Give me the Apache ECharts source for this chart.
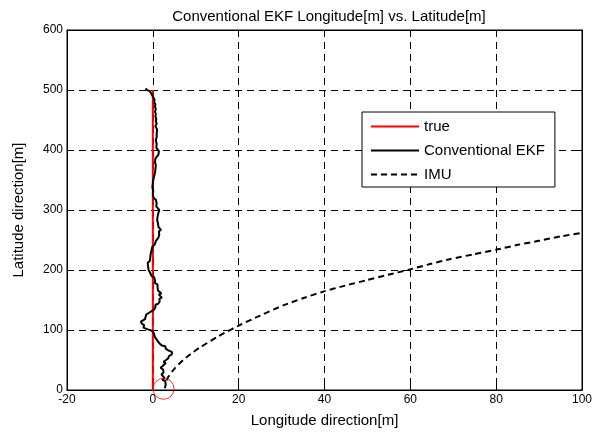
<!DOCTYPE html>
<html>
<head>
<meta charset="utf-8">
<script src="https://cdn.jsdelivr.net/npm/echarts@6/dist/echarts.min.js"></script>
<style>html,body{margin:0;padding:0;background:#fff}#c{width:608px;height:437px}</style>
</head>
<body>
<div id="c"></div>
<script>
var titleText = 'Conventional EKF Longitude[m] vs. Latitude[m]';
var xName = 'Longitude direction[m]';
var yName = 'Latitude direction[m]';
var seriesNames = ['true', 'Conventional EKF', 'IMU'];

var trueX = [0, 0];
var trueY = [0, 500];

var ekfX = [2.8,2.4,3.0,2.6,2.9,2.2,2.7,2.4,2.0,2.5,2.1,2.4,1.8,2.3,2.6,3.0,2.5,2.9,3.5,3.1,3.8,4.4,4.0,4.5,4.2,3.6,3.8,3.0,2.6,2.9,2.1,1.8,1.5,1.9,1.1,0.8,0.5,0.9,0.3,0.5,0.1,0.3,-0.2,-0.6,-1.2,-1.6,-2.2,-2.6,-2.0,-2.5,-2.3,-2.8,-2.3,-1.8,-2.2,-1.7,-2.1,-1.5,-1.0,-0.6,-0.2,0.3,0.1,0.6,0.9,0.6,1.3,1.0,1.6,1.9,1.5,2.1,1.8,1.4,2.0,1.6,1.2,1.6,1.1,0.8,1.1,0.5,0.2,0.5,0.1,0.3,-0.3,-0.1,-0.6,-0.4,-1.0,-0.7,-1.1,-0.8,-1.2,-0.7,-1.0,-0.6,-0.9,-0.5,-0.8,-0.3,0.1,-0.1,0.4,0.2,0.7,0.9,1.3,1.0,1.5,1.8,1.4,1.9,1.6,1.3,1.7,1.2,1.5,1.0,0.7,1.1,0.8,1.3,1.0,1.5,1.1,0.8,1.2,0.9,0.5,0.7,0.2,0.4,0.0,-0.3,0.1,-0.3,-0.1,0.2,0.0,0.3,0.1,0.5,0.3,0.7,0.5,0.9,0.6,1.0,0.7,0.9,0.5,0.8,0.6,1.0,1.3,1.0,1.4,1.1,0.8,1.2,0.9,1.1,0.7,1.0,0.9,0.6,0.9,0.7,1.0,0.8,0.6,0.9,0.7,0.8,0.6,0.7,0.5,0.7,0.5,0.6,0.3,0.4,0.1,-0.2,-0.5,-0.7,-1.1,-1.7,-1.3];
var ekfY = [3,6,9,12,15,17,20,23,26,29,31,34,37,40,42,45,47,50,52,55,57,59,61,63,65,66,68,69,71,73,74,76,78,80,82,85,88,90,93,95,97,98,99,100,101,102,104,106,108,110,112,114,116,118,120,122,124,126,128,130,132,134,136,138,140,142,144,146,148,150,152,154,157,159,161,164,166,168,171,173,176,178,181,183,185,188,190,193,195,198,200,203,206,209,212,215,218,221,224,227,230,233,236,239,242,245,248,251,254,257,259,262,264,267,270,272,275,278,281,283,286,289,292,295,297,300,303,306,309,311,314,317,320,323,326,329,332,335,338,341,344,347,350,353,356,359,362,365,368,371,374,377,380,383,386,389,392,395,398,401,404,407,410,413,416,419,422,425,428,431,434,437,440,444,448,452,456,460,464,468,472,476,480,484,488,492,495,498,500,501,502];

var imuX = [3.2,3.6,5.2,7.1,9.0,11.0,14.9,17.2,19.9,25.0,30.4,35.0,39.7,44.8,49.8,54.8,59.9,64.6,69.2,74.6,80.1,85.1,90.2,95.0,99.9,101];
var imuY = [16,22,37,50,61,71,88,97,107,124,141,153,164,174,183,192,201,210,218,226,234,242,249,256,262,264];

var startX = [2.5];
var startY = [2];

function pairs(xs, ys){ return xs.map(function(v,i){ return [v, ys[i]]; }); }

var fontFam = '"Liberation Sans", Arial, Helvetica, sans-serif';
var chart = echarts.init(document.getElementById('c'));
chart.setOption({
  animation: false,
  backgroundColor: '#fff',
  title: {
    text: titleText,
    left: 324, top: 4, textAlign: 'center',
    textStyle: {fontSize: 15, fontWeight: 'normal', color: '#000', fontFamily: fontFam}
  },
  grid: {left: 67, right: 26, top: 30, bottom: 47, show: true, borderColor: '#000', borderWidth: 1, backgroundColor: '#fff'},
  legend: {
    data: seriesNames,
    orient: 'vertical',
    left: 362, top: 112,
    backgroundColor: '#fff',
    borderColor: '#000', borderWidth: 1,
    padding: [7, 10, 5, 8],
    itemWidth: 48, itemHeight: 14, itemGap: 9,
    itemStyle: {color: 'rgba(0,0,0,0)', borderColor: 'rgba(0,0,0,0)', borderWidth: 0},
    textStyle: {fontSize: 15, color: '#000', fontFamily: fontFam}
  },
  xAxis: [{
    type: 'value', min: -20, max: 100, interval: 20,
    name: xName, nameLocation: 'middle', nameGap: 23,
    nameTextStyle: {fontSize: 15, color: '#000', fontFamily: fontFam},
    axisLine: {show: true, onZero: false, lineStyle: {color: '#000'}},
    axisTick: {show: true, inside: true, length: 5, lineStyle: {color: '#000'}},
    axisLabel: {fontSize: 12, color: '#000', margin: 4, fontFamily: fontFam},
    splitLine: {show: true, lineStyle: {color: '#000', type: [7, 5], width: 1}}
  }, {
    type: 'value', min: -20, max: 100, interval: 20, position: 'top',
    axisLine: {show: true, onZero: false, lineStyle: {color: '#000'}},
    axisTick: {show: true, inside: true, length: 5, lineStyle: {color: '#000'}},
    axisLabel: {show: false}, splitLine: {show: false}
  }],
  yAxis: [{
    type: 'value', min: 0, max: 600, interval: 100,
    name: yName, nameLocation: 'middle', nameGap: 41,
    nameTextStyle: {fontSize: 15, color: '#000', fontFamily: fontFam},
    axisLine: {show: true, onZero: false, lineStyle: {color: '#000'}},
    axisTick: {show: true, inside: true, length: 5, lineStyle: {color: '#000'}},
    axisLabel: {fontSize: 12, color: '#000', margin: 4, fontFamily: fontFam},
    splitLine: {show: true, lineStyle: {color: '#000', type: [7, 5], width: 1}}
  }, {
    type: 'value', min: 0, max: 600, interval: 100, position: 'right',
    axisLine: {show: true, onZero: false, lineStyle: {color: '#000'}},
    axisTick: {show: true, inside: true, length: 5, lineStyle: {color: '#000'}},
    axisLabel: {show: false}, splitLine: {show: false}
  }],
  series: [
    {name: seriesNames[0], type: 'line', data: pairs(trueX, trueY), symbol: 'none',
     lineStyle: {color: '#ff0000', width: 2}, itemStyle: {color: '#ff0000'}, z: 3},
    {name: seriesNames[1], type: 'line', data: pairs(ekfX, ekfY), symbol: 'none',
     lineStyle: {color: '#000', width: 2}, itemStyle: {color: '#000'}, z: 4},
    {name: seriesNames[2], type: 'line', data: pairs(imuX, imuY), symbol: 'none', smooth: 0.2,
     lineStyle: {color: '#000', width: 2, type: [6, 4]}, itemStyle: {color: '#000'}, z: 4},
    {name: 'start', type: 'scatter', data: pairs(startX, startY), symbol: 'circle', symbolSize: 21,
     itemStyle: {color: 'rgba(0,0,0,0)', borderColor: '#ff0000', borderWidth: 1}, z: 5, silent: true}
  ]
});
</script>
</body>
</html>
